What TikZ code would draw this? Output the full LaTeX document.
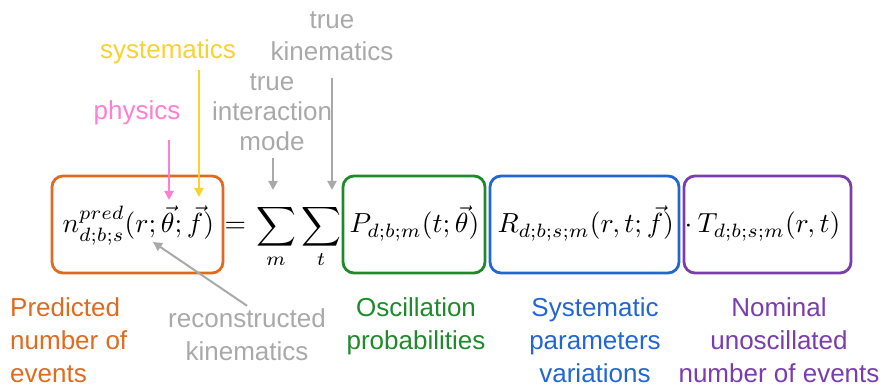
\RequirePackage{fix-cm}
\documentclass[tikz,border=0pt]{standalone}
\usepackage{amsmath}
\usepackage{fontspec}
\setmainfont{Liberation Sans}
\usetikzlibrary{arrows.meta}
\definecolor{corange}{HTML}{E06A1E}
\definecolor{cpink}{HTML}{FF7FD2}
\definecolor{cyellow}{HTML}{F7D330}
\definecolor{cgray}{HTML}{A9A9A9}
\definecolor{cgreen}{HTML}{1F8A2C}
\definecolor{cblue}{HTML}{2266D4}
\definecolor{cpurple}{HTML}{7A3DAF}
\begin{document}
\begin{tikzpicture}[x=1pt,y=-1pt,
  lab/.style={font=\fontsize{26}{33}\selectfont, align=center, inner sep=0pt},
  eq/.style={font=\normalsize, scale=2.76, inner sep=0pt, anchor=base west},
  box/.style={draw, line width=2.8pt, rounded corners=11pt, inner sep=0pt},
  arr/.style={line width=2pt, -{Triangle[width=9pt,length=9pt]}}]
\useasboundingbox (0,0) rectangle (884,390);
% boxes
\node (ob) [box, draw=corange, minimum width=171pt, minimum height=97pt] at (137.5,224.5) {};
\node (gb) [box, draw=cgreen, minimum width=142pt, minimum height=97pt] at (414,224.5) {};
\node (bb) [box, draw=cblue, minimum width=189pt, minimum height=97pt] at (584.5,224.5) {};
\node (pb) [box, draw=cpurple, minimum width=167pt, minimum height=97pt] at (767.5,224.5) {};
% formula
\node (nt) [eq] at (62,233) {$n^{pred}_{d;b;s}(r;\vec{\theta};\vec{f})$};
\node (eqs) [eq] at (224,233) {$=$};
\node (s1) [eq, anchor=base] at (276,234) {$\displaystyle\sum_{m}$};
\node (s2) [eq, anchor=base] at (321,234) {$\displaystyle\sum_{t}$};
\node (pt) [eq] at (349,233) {$P_{d;b;m}(t;\vec{\theta})$};
\node (rt) [eq] at (497,233) {$R_{d;b;s;m}(r,t;\vec{f})$};
\node (dt) [eq] at (684,233) {$\cdot$};
\node (tt) [eq] at (697,233) {$T_{d;b;s;m}(r,t)$};
% top labels
\node (sys) [lab, text=cyellow] at (168,52) {systematics};
\node (phy) [lab, text=cpink] at (137,113) {physics};
\node (tim) [lab, text=cgray, font=\fontsize{26}{30}\selectfont] at (272,112) {true\\interaction\\mode};
\node (tk) [lab, text=cgray, font=\fontsize{26}{32}\selectfont] at (332,36) {true\\kinematics};
% bottom labels
\node (pred) [lab, text=corange, align=left, anchor=north west] at (10,297) {Predicted\\number of\\events};
\node (rec) [lab, text=cgray] at (247,335) {reconstructed\\kinematics};
\node (osc) [lab, text=cgreen, anchor=north] at (416,297) {Oscillation\\probabilities};
\node (sysp) [lab, text=cblue, anchor=north] at (595,297) {Systematic\\parameters\\variations};
\node (nom) [lab, text=cpurple, anchor=north] at (779,297) {Nominal\\unoscillated\\number of events};
% arrows
\coordinate (pS) at (169,140); \coordinate (pE) at (169,200);
\coordinate (yS) at (199,70);  \coordinate (yE) at (199,197);
\coordinate (g1S) at (273,158); \coordinate (g1E) at (273,190);
\coordinate (g2S) at (332,78);  \coordinate (g2E) at (332,190);
\coordinate (rE) at (153,242);
\draw[arr, cpink] (pS) -- (pE);
\draw[arr, cyellow] (yS) -- (yE);
\draw[arr, cgray] (g1S) -- (g1E);
\draw[arr, cgray] (g2S) -- (g2E);
\draw[arr, cgray] (rec.north) ++(0,-3) -- (rE);
\end{tikzpicture}
\end{document}
